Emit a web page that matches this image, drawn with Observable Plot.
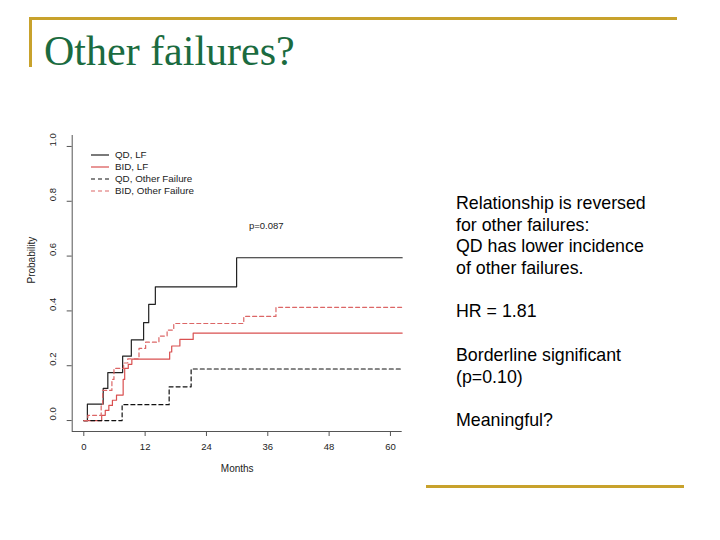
<!DOCTYPE html>
<html>
<head>
<meta charset="utf-8">
<script src="https://cdn.jsdelivr.net/npm/d3@7"></script>
<script src="https://cdn.jsdelivr.net/npm/@observablehq/plot@0.6"></script>
<style>
  html, body { margin: 0; padding: 0; background: #fff; }
  body { width: 720px; height: 540px; position: relative; overflow: hidden; font-family: "Liberation Sans", Arial, sans-serif; }
  .gold { position: absolute; background: #c8a22c; }
  #title { position: absolute; left: 44px; top: 30px; font-family: "Liberation Serif", "Times New Roman", serif; font-size: 42px; color: #1b6b40; white-space: nowrap; line-height: 1; }
  #chart { position: absolute; left: 10px; top: 125px; }
  #legend { position: absolute; left: 85px; top: 147px; }
  #pval { position: absolute; left: 249px; top: 220px; font-size: 9.5px; color: #222; }
  #notes { position: absolute; left: 456px; top: 193px; font-size: 17.8px; line-height: 21.7px; color: #000; }
  #notes div { height: 21.7px; white-space: nowrap; }
</style>
</head>
<body>
<div class="gold" style="left:29px; top:17px; width:648px; height:3px;"></div>
<div class="gold" style="left:29px; top:17px; width:3px; height:50px;"></div>
<div class="gold" style="left:426px; top:485px; width:258px; height:3px;"></div>
<div id="title">Other failures?</div>
<div id="chart"></div>
<div id="legend"></div>
<div id="pval">p=0.087</div>
<div id="notes"></div>
<script>
// ---- data ----
const seriesNames = ["QD, LF", "BID, LF", "QD, Other Failure", "BID, Other Failure"];

const qdLFMonths = [0, 0.7, 3.8, 4.7, 7.6, 9.3, 11.7, 12.7, 14.0, 29.9, 62.3];
const qdLFProb   = [0, 0.060, 0.117, 0.175, 0.235, 0.294, 0.357, 0.424, 0.488, 0.594, 0.594];

const bidLFMonths = [0, 3.5, 4.2, 4.9, 5.6, 6.4, 7.7, 8.0, 8.7, 9.4, 16.8, 17.2, 18.8, 21.4, 62.3];
const bidLFProb   = [0, 0.019, 0.037, 0.055, 0.074, 0.093, 0.15, 0.19, 0.205, 0.224, 0.25, 0.272, 0.296, 0.319, 0.319];

const qdOFMonths = [0, 7.5, 16.7, 21.0, 62.3];
const qdOFProb   = [0, 0.058, 0.123, 0.188, 0.188];

const bidOFMonths = [0, 0.8, 3.4, 3.7, 5.5, 5.9, 7.8, 8.6, 10.8, 12.1, 14.7, 16.3, 17.6, 31.3, 37.6, 62.3];
const bidOFProb   = [0, 0.019, 0.056, 0.11, 0.15, 0.19, 0.21, 0.225, 0.263, 0.286, 0.308, 0.33, 0.354, 0.38, 0.413, 0.413];

const xTicks = [0, 12, 24, 36, 48, 60];
const yTicks = [0, 0.2, 0.4, 0.6, 0.8, 1.0];
const yTickLabels = ["0.0", "0.2", "0.4", "0.6", "0.8", "1.0"];
const xLabel = "Months";
const yLabel = "Probability";
const pValueText = "p=0.087";
const noteLines = ["Relationship is reversed", "for other failures:", "QD has lower incidence", "of other failures.", "", "HR = 1.81", "", "Borderline significant", "(p=0.10)", "", "Meaningful?"];

// ---- styles ----
const seriesStyle = [
  {stroke: "#222222", dash: null},
  {stroke: "#d95050", dash: null},
  {stroke: "#111111", dash: "4,3"},
  {stroke: "#dc6666", dash: "4,3"}
];
const xDomain = [-2.27, 62.3];
const yDomain = [-0.04, 1.04];

function rows(name, months, probs) {
  return months.map((m, i) => ({series: name, month: m, prob: probs[i]}));
}
const seriesData = [
  rows(seriesNames[0], qdLFMonths, qdLFProb),
  rows(seriesNames[1], bidLFMonths, bidLFProb),
  rows(seriesNames[2], qdOFMonths, qdOFProb),
  rows(seriesNames[3], bidOFMonths, bidOFProb)
];

const axisColor = "#555";
const textColor = "#222";
const fs = 9.5;

const lineMarks = seriesData.map((d, i) => Plot.line(d, {
  x: "month", y: "prob", curve: "step-after",
  stroke: seriesStyle[i].stroke, strokeWidth: 1.2,
  strokeDasharray: seriesStyle[i].dash
}));

const plot = Plot.plot({
  width: 400,
  height: 360,
  marginLeft: 61.7,
  marginRight: 8.3,
  marginTop: 10,
  marginBottom: 54,
  style: {fontFamily: "'Liberation Sans', Arial, sans-serif", fontSize: fs + "px", color: textColor, background: "transparent"},
  x: {domain: xDomain, axis: null},
  y: {domain: yDomain, axis: null},
  marks: [
    Plot.ruleX([xDomain[0]], {stroke: axisColor, strokeWidth: 1}),
    Plot.ruleY([yDomain[0]], {stroke: axisColor, strokeWidth: 1}),
    Plot.axisX({ticks: xTicks, tickSize: 5, tickPadding: 7, tickFormat: d => String(d), label: null, stroke: axisColor, fill: textColor, fontSize: fs}),
    Plot.axisY({ticks: yTicks, tickSize: 5, tickFormat: () => "", label: null, stroke: axisColor}),
    Plot.text(yTicks, {y: d => d, text: (d, i) => yTickLabels[i], frameAnchor: "left", dx: -19, rotate: -90, fontSize: fs, fill: textColor}),
    Plot.text([xLabel], {text: d => d, frameAnchor: "bottom", dy: 40, fontSize: fs + 0.5, fill: textColor}),
    Plot.text([yLabel], {text: d => d, frameAnchor: "left", dx: -40, rotate: -90, fontSize: fs + 0.5, fill: textColor}),
    ...lineMarks
  ]
});
document.getElementById("chart").appendChild(plot);

// ---- legend (inset) ----
const ns = "http://www.w3.org/2000/svg";
const lg = document.createElementNS(ns, "svg");
lg.setAttribute("width", 130);
lg.setAttribute("height", 52);
lg.style.fontFamily = "'Liberation Sans', Arial, sans-serif";
seriesNames.forEach((name, i) => {
  const y = 8 + i * 12;
  const ln = document.createElementNS(ns, "line");
  ln.setAttribute("x1", 6); ln.setAttribute("x2", 24);
  ln.setAttribute("y1", y); ln.setAttribute("y2", y);
  ln.setAttribute("stroke", seriesStyle[i].stroke);
  ln.setAttribute("stroke-width", 1.2);
  if (seriesStyle[i].dash) ln.setAttribute("stroke-dasharray", seriesStyle[i].dash);
  lg.appendChild(ln);
  const t = document.createElementNS(ns, "text");
  t.setAttribute("x", 30); t.setAttribute("y", y + 3.4);
  t.setAttribute("font-size", 9.8);
  t.setAttribute("fill", textColor);
  t.textContent = name;
  lg.appendChild(t);
});
document.getElementById("legend").appendChild(lg);

document.getElementById("pval").textContent = pValueText;
const notes = document.getElementById("notes");
noteLines.forEach(s => { const d = document.createElement("div"); d.textContent = s; notes.appendChild(d); });
</script>
</body>
</html>
